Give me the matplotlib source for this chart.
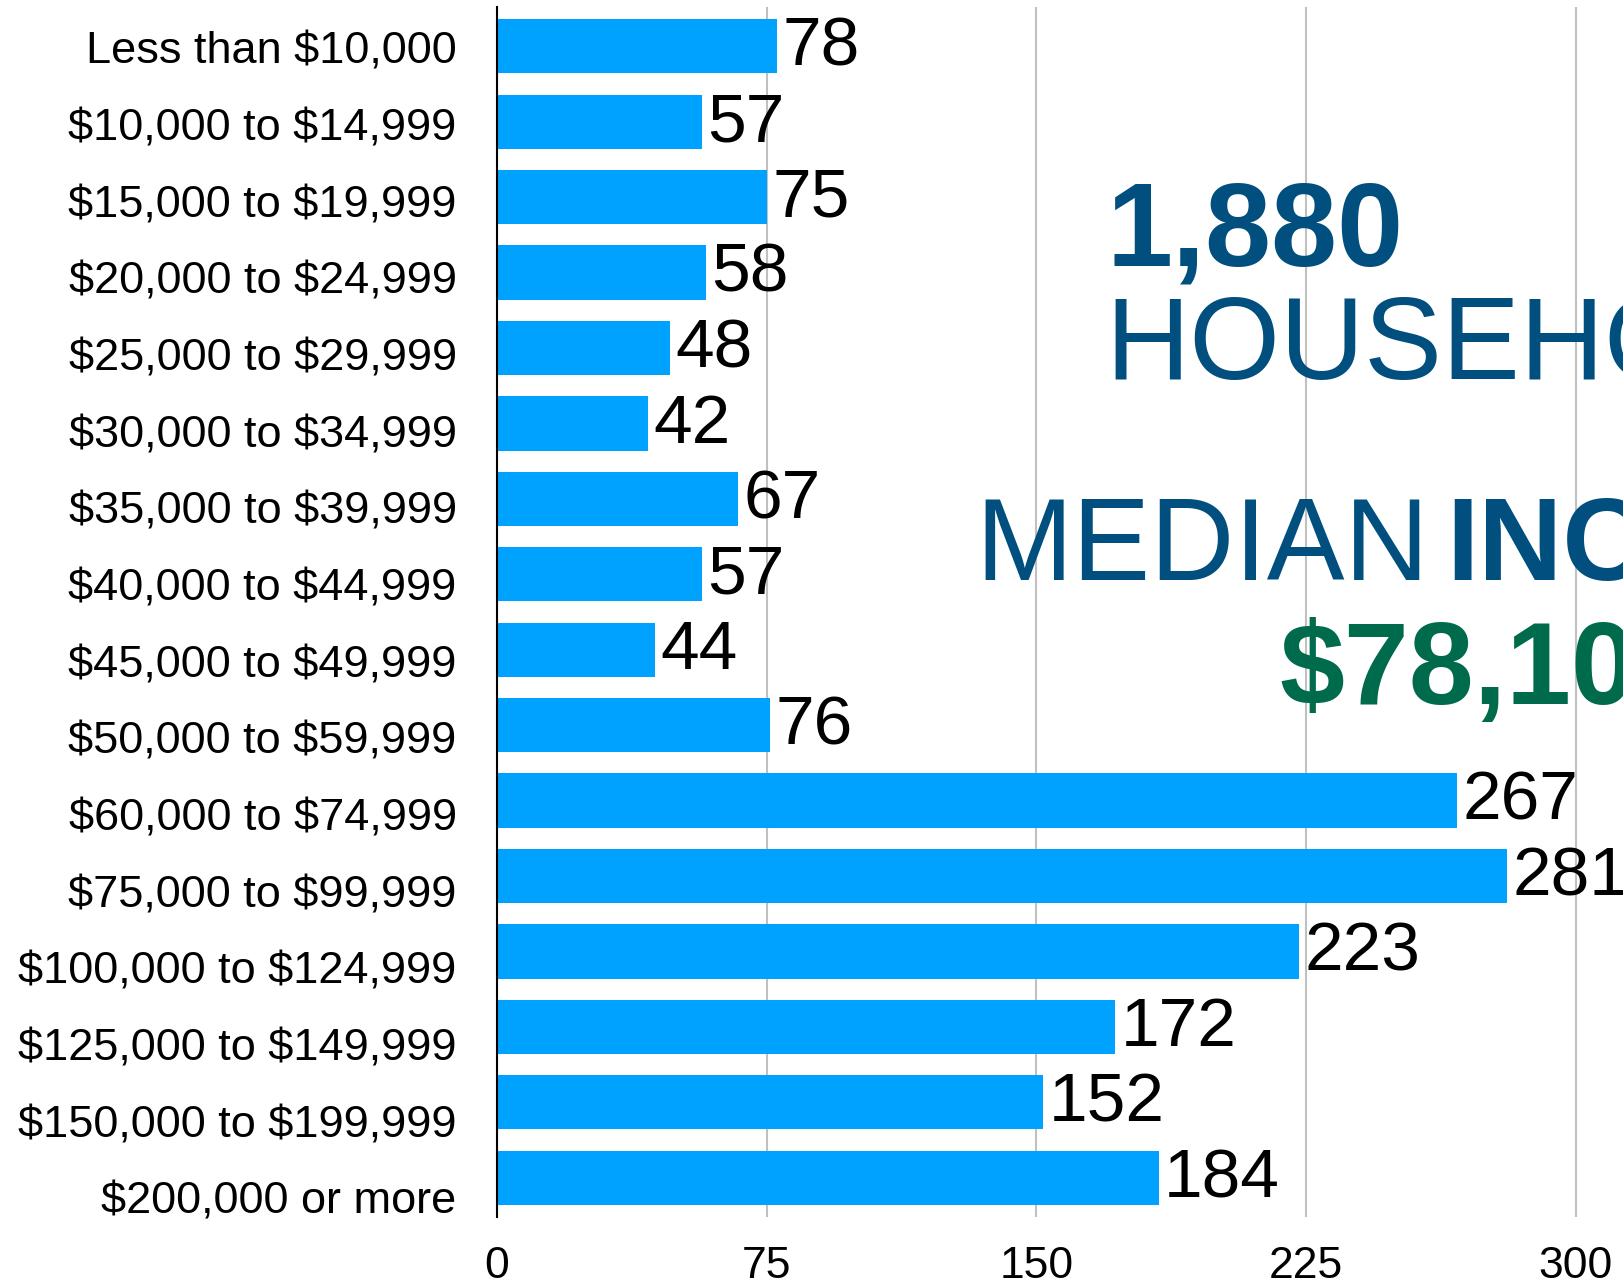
import matplotlib
matplotlib.use("Agg")
import matplotlib.pyplot as plt

categories = ["Less than $10,000", "$10,000 to $14,999", "$15,000 to $19,999",
              "$20,000 to $24,999", "$25,000 to $29,999", "$30,000 to $34,999",
              "$35,000 to $39,999", "$40,000 to $44,999", "$45,000 to $49,999",
              "$50,000 to $59,999", "$60,000 to $74,999", "$75,000 to $99,999",
              "$100,000 to $124,999", "$125,000 to $149,999", "$150,000 to $199,999",
              "$200,000 or more"]
values = [78, 57, 75, 58, 48, 42, 67, 57, 44, 76, 267, 281, 223, 172, 152, 184]
xticks = [0, 75, 150, 225, 300]

plt.rcParams['font.family'] = ['Liberation Sans', 'DejaVu Sans']
plt.rcParams['text.parse_math'] = False

W, H = 1623, 1287
fig = plt.figure(figsize=(W/100, H/100), dpi=100)
ax = fig.add_axes([497/W, 1 - 1217/H, 1 - 497/W, (1217 - 7)/H])

bar_color = '#00A2FF'
ypos = list(range(len(categories)))
ax.barh(ypos, values, height=0.72, color=bar_color, zorder=3)
for y, v in zip(ypos, values):
    ax.annotate(str(v), (v, y), xytext=(4, -1), textcoords='offset points',
                ha='left', va='center', fontsize=50, color='black', zorder=4)

ax.set_xlim(0, 313.2)
ax.set_ylim(15.52, -0.52)
# category labels are spaced slightly wider than the bars, as in the reference
ax.set_yticks([i * 1.0165 + 0.02 for i in ypos])
ax.set_yticklabels(categories, fontsize=32.5)
ax.set_xticks(xticks)
ax.set_xticklabels([str(t) for t in xticks], fontsize=32)
ax.tick_params(axis='y', length=0, pad=29)
ax.tick_params(axis='x', length=0, pad=21)
ax.xaxis.grid(True, color='#C0C0C0', linewidth=1.5, zorder=0)
ax.set_axisbelow(True)
for s in ['top', 'right', 'bottom']:
    ax.spines[s].set_visible(False)
ax.spines['left'].set_color('black')
ax.spines['left'].set_linewidth(1.5)
ax.spines['left'].set_zorder(5)

blue = '#004F7F'
green = '#006A4C'
def ftext(x, y, s, **kw):
    fig.text(x / W, 1 - y / H, s, va='baseline', ha='left', **kw)

ftext(1107, 266, "1,880", fontsize=85.5, fontweight='bold', color=blue)
ftext(1105, 379, "HOUSEHOLDS", fontsize=84, color=blue)
ftext(975, 580, "MEDIAN", fontsize=84, color=blue)
ftext(1446, 580, "INCOME", fontsize=84, fontweight='bold', color=blue)
ftext(1279, 704, "$78,100", fontsize=84, fontweight='bold', color=green)

fig.savefig("out.png", dpi=100)
